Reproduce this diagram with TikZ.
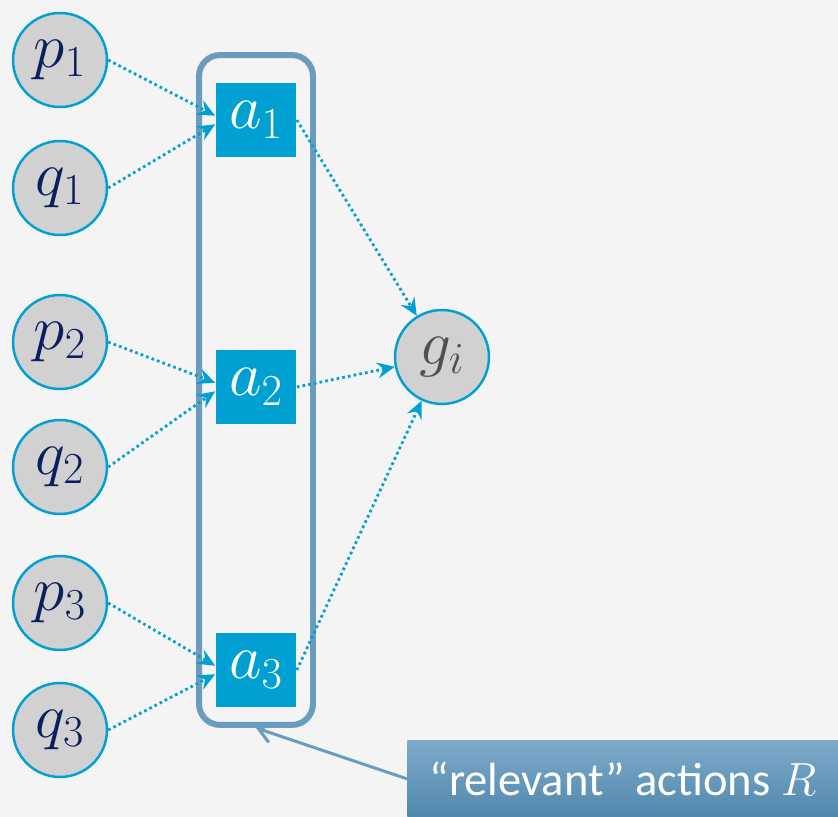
\RequirePackage{fix-cm}
\documentclass[tikz,border=0pt]{standalone}
\usepackage{fontspec}
\setmainfont{Carlito}
\definecolor{bgcolor}{HTML}{F4F4F4}
\definecolor{nodegray}{HTML}{D1D1D1}
\definecolor{cyanline}{HTML}{00A0D2}
\definecolor{navy}{HTML}{0B1F5E}
\definecolor{darkgray}{HTML}{505050}
\definecolor{steel}{HTML}{6A9CBE}
\definecolor{steeltop}{HTML}{7DAACA}
\definecolor{steelbot}{HTML}{5188AD}
\usetikzlibrary{arrows.meta,positioning}

\begin{document}
\begin{tikzpicture}[x=0.02cm,y=-0.02cm,
    statenode/.style={circle,draw=cyanline,fill=nodegray,line width=1.4pt,minimum size=1.88cm,inner sep=0pt,text=navy,font=\fontsize{36}{42}\selectfont},
    actionbox/.style={rectangle,fill=cyanline,minimum width=1.62cm,minimum height=1.5cm,inner sep=0pt,text=white,font=\fontsize{36}{42}\selectfont},
    flowarrow/.style={cyanline,line width=1.6pt,dash pattern=on 1.5pt off 1.8pt,-{Stealth[length=10pt,width=9pt,inset=3.5pt]}},
    groupbox/.style={draw=steel,line width=3.4pt,rounded corners=12pt,minimum width=2.28cm,minimum height=13.4cm,inner sep=0pt},
    notebox/.style={rectangle,top color=steeltop,bottom color=steelbot,minimum width=8.62cm,minimum height=1.54cm,inner sep=0pt,text=white,font=\fontsize{26.5}{30}\selectfont},
    ]
    \fill[bgcolor] (0,0) rectangle (838,817);
    \useasboundingbox (0,0) rectangle (838,817);
    % inputs
    \node[statenode] (p1) at (60,60) {$p_1$};
    \node[statenode] (q1) at (60,188) {$q_1$};
    \node[statenode] (p2) at (60,342) {$p_2$};
    \node[statenode] (q2) at (60,467) {$q_2$};
    \node[statenode] (p3) at (60,603) {$p_3$};
    \node[statenode] (q3) at (60,730) {$q_3$};
    % actions
    \node[groupbox] (rel) at (256,390) {};
    \node[actionbox] (a1) at (256,120) {$a_1$};
    \node[actionbox] (a2) at (256,387) {$a_2$};
    \node[actionbox] (a3) at (256,670) {$a_3$};
    % goal
    \node[statenode,text=darkgray] (g) at (442,357) {$g_i$};
    \foreach \i in {1,2,3} {
        \draw[flowarrow] (p\i.east) -- (a\i.174);
        \draw[flowarrow] (q\i.east) -- (a\i.186);
        \draw[flowarrow] (a\i.east) -- (g);
    }
    % callout
    \node[notebox,anchor=north west] (note) at (407,740) {“relevant” actions $R$};
    \draw[steel,line width=1.7pt,-{Straight Barb[length=8pt,width=11pt]}] (note.west) -- (rel.south);
\end{tikzpicture}
\end{document}
